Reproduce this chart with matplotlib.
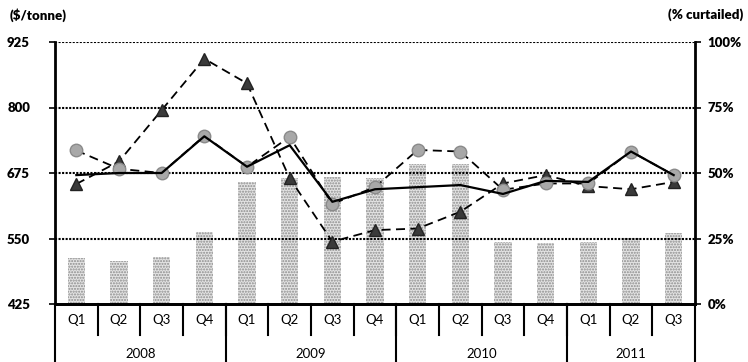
import numpy as np
import matplotlib.pyplot as plt
from matplotlib.transforms import blended_transform_factory

# quarterly data
quarters = ['Q1', 'Q2', 'Q3', 'Q4',
            'Q1', 'Q2', 'Q3', 'Q4',
            'Q1', 'Q2', 'Q3', 'Q4',
            'Q1', 'Q2', 'Q3']
years = ['2008', '2009', '2010', '2011']
year_lengths = [4, 4, 4, 3]

price_solid = [671, 675, 675, 745, 687, 728, 620, 644, 648, 652, 635, 660, 658, 716, 671]
price_circle = [718, 683, 675, 746, 687, 744, 616, 648, 719, 716, 643, 655, 655, 716, 671]
price_triangle = [654, 697, 795, 893, 846, 665, 544, 566, 569, 601, 655, 671, 650, 644, 658]
curtailed_pct = [17.6, 16.4, 18.0, 27.5, 46.7, 48.0, 48.6, 48.0, 53.4, 53.4,
                 23.8, 23.4, 23.8, 25.3, 27.0]

left_ticks = [425, 550, 675, 800, 925]
right_ticks = [0, 25, 50, 75, 100]

plt.rcParams['font.family'] = ['Lato', 'DejaVu Sans']

fig = plt.figure(figsize=(7.48, 3.62), dpi=100)
ax = fig.add_axes([55 / 748, 58 / 362, 640 / 748, 262 / 362])
ax2 = ax.twinx()

x = np.arange(len(quarters))

# bars on the right axis, drawn behind the lines
ax2.bar(x, curtailed_pct, width=0.4, color='#e4e4e4', edgecolor='#8c8c8c',
        hatch='......', linewidth=0)
ax2.set_ylim(0, 100)
ax2.set_yticks(right_ticks)
ax2.set_yticklabels([f'{t}%' for t in right_ticks], fontsize=9.5, fontweight='heavy')

ax.set_zorder(ax2.get_zorder() + 1)
ax.patch.set_visible(False)

for t in left_ticks[1:]:
    ax.axhline(t, color='black', linestyle=(0, (1, 0.7)), linewidth=1.5, zorder=1)

ax.plot(x, price_triangle, color='black', linestyle=(0, (5, 3)), linewidth=1.3,
        marker='^', markersize=9, markerfacecolor='#3a3a3a',
        markeredgecolor='#222222', zorder=3)
ax.plot(x, price_circle, color='black', linestyle=(0, (5, 3)), linewidth=1.3,
        marker='o', markersize=9, markerfacecolor='#a8a8a8',
        markeredgecolor='#8a8a8a', zorder=4)
ax.plot(x, price_solid, color='black', linewidth=1.6, zorder=5)

ax.set_xlim(-0.5, len(quarters) - 0.5)
ax.set_ylim(425, 925)
ax.set_yticks(left_ticks)
ax.set_yticklabels([str(t) for t in left_ticks], fontsize=9.5, fontweight='heavy')
ax.set_xticks([])

for a in (ax, ax2):
    a.spines['top'].set_visible(False)
    a.spines['left'].set_linewidth(2)
    a.spines['right'].set_linewidth(2)
    a.spines['bottom'].set_linewidth(2)
ax.tick_params(axis='y', direction='out', length=4, width=1.2, pad=14)
ax2.tick_params(axis='y', direction='out', length=4, width=1.2, pad=5)

ax2.spines['left'].set_visible(False)
ax.spines['right'].set_visible(False)

# two-level category axis
trans = blended_transform_factory(ax.transData, ax.transAxes)
q_drop = 31 / 262
y_drop = 58 / 262
for i, q in enumerate(quarters):
    ax.text(i, -0.06, q, transform=trans, ha='center', va='center', fontsize=9.5)
for i in range(len(quarters) - 1):
    ax.plot([i + 0.5, i + 0.5], [0, -q_drop], transform=trans, color='black',
            linewidth=1.5, clip_on=False)

start = 0
bounds = [-0.5]
for yr, n in zip(years, year_lengths):
    ax.text(start + (n - 1) / 2, -0.19, yr, transform=trans, ha='center',
            va='center', fontsize=9.5)
    start += n
    bounds.append(start - 0.5)
for b in bounds:
    ax.plot([b, b], [0, -y_drop], transform=trans, color='black',
            linewidth=1.5, clip_on=False)

fig.text(10 / 748, 1 - 15 / 362, '($/tonne)', fontsize=9.5, fontweight='heavy',
         ha='left', va='center')
fig.text(743 / 748, 1 - 15 / 362, '(% curtailed)', fontsize=9.5, fontweight='heavy',
         ha='right', va='center')

fig.savefig('out.png', dpi=100)
